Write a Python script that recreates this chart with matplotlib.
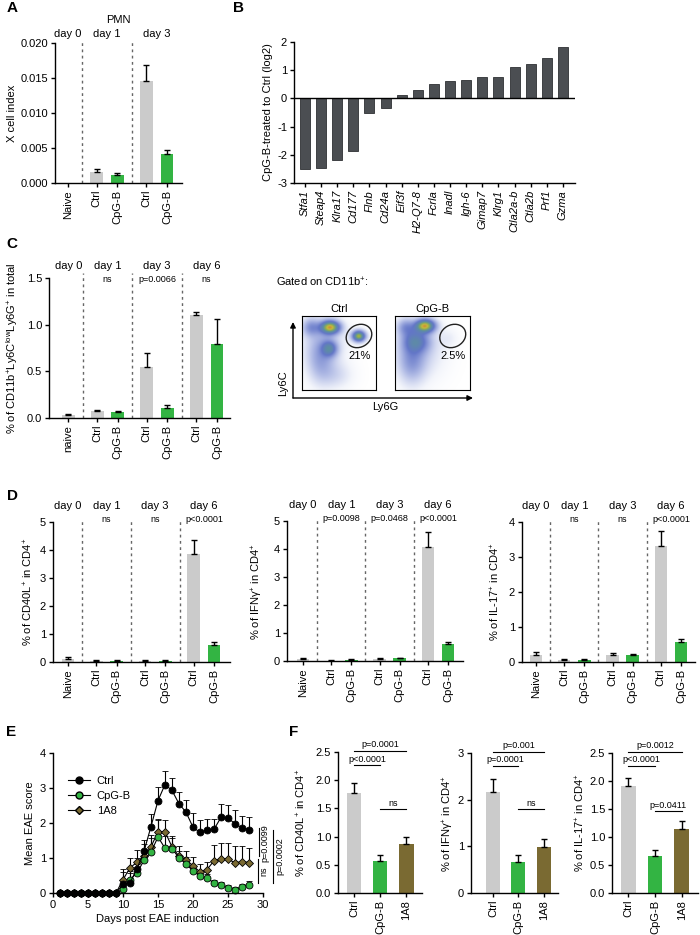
import numpy as np
import matplotlib
matplotlib.use("Agg")
import matplotlib.pyplot as plt
import matplotlib.transforms as mtransforms
from matplotlib.patches import Ellipse
from matplotlib.lines import Line2D
from matplotlib.colors import LinearSegmentedColormap

plt.rcParams["font.family"] = ["Liberation Sans", "DejaVu Sans"]
plt.rcParams["mathtext.default"] = "regular"
plt.rcParams["font.size"] = 8
plt.rcParams["axes.linewidth"] = 1.0

GREY = "#cbcbcb"
GREEN = "#33b443"
OLIVE = "#7a6a32"
DARK = "#4b4e52"

# =========================
# Data
# =========================
# A: PMN X cell index
a_labels = ["Naive", "Ctrl", "CpG-B", "Ctrl", "CpG-B"]
a_vals = [0.0, 0.0016, 0.0012, 0.0145, 0.0041]
a_err = [0.0, 0.0004, 0.0003, 0.0023, 0.0006]
a_days = ["day 0", "day 1", "day 3"]

# B: log2 fold change
b_genes = ["Stfa1", "Steap4", "Klra17", "Cd177", "Flnb", "Cd24a", "Eif3f", "H2-Q7-8",
           "Fcrla", "Inadl", "Igh-6", "Gimap7", "Klrg1", "Ctla2a-b", "Ctla2b", "Prf1", "Gzma"]
b_vals = [-2.50, -2.47, -2.17, -1.87, -0.53, -0.33, 0.13, 0.30,
          0.52, 0.62, 0.67, 0.76, 0.77, 1.12, 1.22, 1.45, 1.83]

# shared time-course labels (C, D)
tc_labels = ["naive", "Ctrl", "CpG-B", "Ctrl", "CpG-B", "Ctrl", "CpG-B"]
tc_labels_d = ["Naive", "Ctrl", "CpG-B", "Ctrl", "CpG-B", "Ctrl", "CpG-B"]
tc_days = ["day 0", "day 1", "day 3", "day 6"]

# C
c_vals = [0.03, 0.07, 0.06, 0.55, 0.11, 1.10, 0.79]
c_err = [0.01, 0.015, 0.01, 0.15, 0.03, 0.04, 0.27]
c_p = ["ns", "p=0.0066", "ns"]

# C flow plots: gaussian components (x, y, sx, sy, weight) in gate coords
ctrl_cx = [0.38, 0.37, 0.77, 0.12, 0.25, 0.45, 0.30]
ctrl_cy = [0.85, 0.56, 0.73, 0.85, 0.40, 0.20, 0.65]
ctrl_sx = [0.09, 0.07, 0.06, 0.08, 0.12, 0.15, 0.18]
ctrl_sy = [0.06, 0.07, 0.05, 0.08, 0.20, 0.12, 0.22]
ctrl_w = [1.0, 0.5, 0.95, 0.3, 0.22, 0.1, 0.15]

cpg_cx = [0.40, 0.28, 0.14, 0.22, 0.72, 0.35]
cpg_cy = [0.87, 0.66, 0.85, 0.40, 0.70, 0.55]
cpg_sx = [0.09, 0.12, 0.08, 0.12, 0.08, 0.20]
cpg_sy = [0.06, 0.10, 0.08, 0.20, 0.08, 0.25]
cpg_w = [1.0, 0.45, 0.3, 0.28, 0.04, 0.12]

# D
d_cd40l = [0.10, 0.05, 0.04, 0.04, 0.05, 3.85, 0.62]
d_cd40l_err = [0.08, 0.02, 0.02, 0.02, 0.02, 0.52, 0.10]
d_cd40l_p = ["ns", "ns", "p<0.0001"]
d_ifng = [0.07, 0.01, 0.05, 0.07, 0.10, 4.07, 0.60]
d_ifng_err = [0.05, 0.01, 0.02, 0.02, 0.02, 0.55, 0.08]
d_ifng_p = ["p=0.0098", "p=0.0468", "p<0.0001"]
d_il17 = [0.20, 0.07, 0.06, 0.21, 0.19, 3.32, 0.57]
d_il17_err = [0.08, 0.02, 0.02, 0.05, 0.03, 0.42, 0.08]
d_il17_p = ["ns", "ns", "p<0.0001"]

# E: EAE score
e_days = list(range(1, 29))
e_ctrl = [0, 0, 0, 0, 0, 0, 0, 0, 0, 0.25, 0.29, 0.70, 1.19, 1.90, 2.64, 3.10, 2.93,
          2.55, 2.31, 1.88, 1.73, 1.80, 1.82, 2.16, 2.14, 1.98, 1.86, 1.81]
e_ctrl_err = [0, 0, 0, 0, 0, 0, 0, 0, 0, 0.35, 0.35, 0.30, 0.32, 0.37, 0.38, 0.40, 0.35,
              0.33, 0.36, 0.40, 0.37, 0.32, 0.30, 0.38, 0.38, 0.40, 0.35, 0.36]
e_cpg = [0, 0, 0, 0, 0, 0, 0, 0, 0, 0.12, 0.38, 0.58, 0.93, 1.17, 1.60, 1.28, 1.27,
         1.00, 0.83, 0.63, 0.48, 0.43, 0.28, 0.22, 0.15, 0.10, 0.18, 0.24]
e_cpg_err = [0, 0, 0, 0, 0, 0, 0, 0, 0, 0.15, 0.2, 0.25, 0.3, 0.4, 0.5, 0.35, 0.3,
             0.2, 0.2, 0.15, 0.12, 0.12, 0.1, 0.1, 0.08, 0.07, 0.08, 0.1]
e_1a8 = [0, 0, 0, 0, 0, 0, 0, 0, 0, 0.38, 0.72, 0.88, 1.05, 1.32, 1.75, 1.75, 1.32,
         1.05, 0.95, 0.78, 0.60, 0.67, 0.92, 0.98, 0.97, 0.86, 0.90, 0.87]
e_1a8_err = [0, 0, 0, 0, 0, 0, 0, 0, 0, 0.32, 0.28, 0.34, 0.35, 0.35, 0.37, 0.35, 0.30,
             0.28, 0.25, 0.25, 0.22, 0.22, 0.45, 0.45, 0.45, 0.47, 0.43, 0.43]

# F
f_groups = ["Ctrl", "CpG-B", "1A8"]
f_cd40l = [1.77, 0.57, 0.87]
f_cd40l_err = [0.18, 0.11, 0.13]
f_cd40l_p = ["p<0.0001", "p=0.0001", "ns"]
f_ifng = [2.17, 0.67, 0.99]
f_ifng_err = [0.27, 0.15, 0.17]
f_ifng_p = ["p=0.0001", "p=0.001", "ns"]
f_il17 = [1.91, 0.66, 1.14]
f_il17_err = [0.14, 0.10, 0.15]
f_il17_p = ["p<0.0001", "p=0.0012", "p=0.0411"]

# layout helpers (pixel boxes on a 700x935 canvas)
W, H = 700, 935
POS = [0, 1.4, 2.4, 3.8, 4.8, 6.2, 7.2]
DASH = [0.7, 3.1, 5.5]
CENTERS = [0, 1.9, 4.3, 6.7]

fig = plt.figure(figsize=(7, 9.35), dpi=100)


def add_ax(box):
    x0, y0, x1, y1 = box
    ax = fig.add_axes([x0 / W, 1 - y1 / H, (x1 - x0) / W, (y1 - y0) / H])
    ax.spines[["top", "right"]].set_visible(False)
    ax.tick_params(direction="out", length=3, width=1, labelsize=8, pad=2)
    return ax


def ylabel_at(ax, box, text, px):
    ax.set_ylabel(text, fontsize=8)
    ax.yaxis.set_label_coords((px - box[0]) / (box[2] - box[0]), 0.5)


def draw_bars(ax, pos, vals, errs, colors, width):
    ax.bar(pos, vals, width=width, color=colors, zorder=2)
    for p, v, e in zip(pos, vals, errs):
        if e > 0:
            ax.errorbar(p, v, yerr=[[0], [e]], fmt="none", ecolor="black",
                        elinewidth=1, capsize=2.5, capthick=1, zorder=3)


def time_panel(box, labels, vals, errs, ylim, yticks, fmt, ylabel, label_px,
               days, pvals, xlim, day_y, p_y, dash_top):
    ax = add_ax(box)
    pos = POS[:len(vals)]
    colors = [GREEN if l == "CpG-B" else GREY for l in labels]
    draw_bars(ax, pos, vals, errs, colors, 0.62)
    ax.set_xlim(*xlim)
    ax.set_ylim(*ylim)
    ax.set_yticks(yticks)
    ax.set_yticklabels([fmt.format(t) for t in yticks])
    ax.set_xticks(pos)
    ax.set_xticklabels(labels, rotation=90)
    trans = mtransforms.blended_transform_factory(ax.transData, ax.transAxes)
    for d in DASH[:len(days) - 1]:
        ax.plot([d, d], [0, dash_top], transform=trans, ls=(0, (2, 2.5)),
                color="#666666", lw=1, clip_on=False)
    for c, t in zip(CENTERS, days):
        ax.text(c, day_y, t, transform=trans, ha="center", va="center", fontsize=8)
    if pvals:
        for c, t in zip(CENTERS[1:], pvals):
            ax.text(c, p_y, t, transform=trans, ha="center", va="center", fontsize=6.5)
    ylabel_at(ax, box, ylabel, label_px)
    return ax


# ---- A ----
box = (55, 43, 182, 183)
axA = time_panel(box, a_labels, a_vals, a_err, (0, 0.02),
                 [0, 0.005, 0.010, 0.015, 0.020], "{:.3f}", "X cell index", 17,
                 a_days, None, (-0.63, 5.53), 1.064, 0, 1.01)
axA.text(2.44, 1.164, "PMN", transform=mtransforms.blended_transform_factory(
    axA.transData, axA.transAxes), ha="center", va="center", fontsize=8)

# ---- B ----
box = (294, 42, 575, 183)
axB = add_ax(box)
axB.bar(range(len(b_vals)), b_vals, width=0.62, color=DARK, edgecolor="#2e3033",
        linewidth=0.6, zorder=2)
axB.axhline(0, color="black", lw=1, zorder=3)
axB.set_xlim(-0.68, 16.75)
axB.set_ylim(-3, 2)
axB.set_yticks([-3, -2, -1, 0, 1, 2])
axB.set_yticklabels(["-3", "-2", "-1", "0", "1", "2"])
axB.set_xticks(range(len(b_vals)))
axB.set_xticklabels(b_genes, rotation=90, style="italic")
ylabel_at(axB, box, "CpG-B-treated to Ctrl (log2)", 273)

# ---- C ----
box = (49, 278, 230, 418)
time_panel(box, tc_labels, c_vals, c_err, (0, 1.5), [0, 0.5, 1.0, 1.5], "{:.1f}",
           "% of CD11b$^{+}$Ly6C$^{low}$Ly6G$^{+}$ in total", 20,
           tc_days, c_p, (-0.93, 7.83), 1.086, 0.986, 1.036)

# ---- C flow plots ----
gx, gy = np.meshgrid(np.linspace(0, 1, 150), np.linspace(0, 1, 150))


def density(cx, cy, sx, sy, w):
    z = np.zeros_like(gx)
    for a, b, c, d, e in zip(cx, cy, sx, sy, w):
        z += e * np.exp(-0.5 * (((gx - a) / c) ** 2 + ((gy - b) / d) ** 2))
    return (z / z.max()) ** 0.8


flow_cmap = LinearSegmentedColormap.from_list(
    "flow", [(0, "white"), (0.06, "#f3f5fb"), (0.25, "#b3bde6"), (0.5, "#6376c8"),
             (0.72, "#5d8fa0"), (0.86, "#8fae50"), (0.95, "#cbb83a"), (1.0, "#c9923a")])

flow_sets = [
    ((302, 316, 376, 390), "Ctrl", "21%", (ctrl_cx, ctrl_cy, ctrl_sx, ctrl_sy, ctrl_w)),
    ((395, 316, 470, 390), "CpG-B", "2.5%", (cpg_cx, cpg_cy, cpg_sx, cpg_sy, cpg_w)),
]
for fbox, title, pct, comps in flow_sets:
    fa = add_ax(fbox)
    fa.spines[["top", "right"]].set_visible(True)
    for s in fa.spines.values():
        s.set_linewidth(0.8)
    fa.imshow(density(*comps), cmap=flow_cmap, origin="lower", extent=[0, 1, 0, 1],
              interpolation="bilinear", aspect="auto", vmin=0, vmax=1)
    fa.add_patch(Ellipse((0.77, 0.73), 0.36, 0.30, angle=30, fill=False,
                         edgecolor="#222222", lw=1))
    fa.text(0.78, 0.46, pct, ha="center", va="center", fontsize=8)
    fa.set_xticks([])
    fa.set_yticks([])
    fa.set_xlim(0, 1)
    fa.set_ylim(0, 1)
    fa.set_title(title, fontsize=8, pad=3)

ov = fig.add_axes([0, 0, 1, 1])
ov.set_xlim(0, W)
ov.set_ylim(H, 0)
ov.axis("off")
ov.annotate("", xy=(293, 322), xytext=(293, 398),
            arrowprops=dict(arrowstyle="-|>", lw=1, color="black", mutation_scale=8,
                            shrinkA=0, shrinkB=0))
ov.annotate("", xy=(473, 398), xytext=(293, 398),
            arrowprops=dict(arrowstyle="-|>", lw=1, color="black", mutation_scale=8,
                            shrinkA=0, shrinkB=0))
ov.text(283, 383, "Ly6C", rotation=90, ha="center", va="center", fontsize=8)
ov.text(385, 407, "Ly6G", ha="center", va="center", fontsize=8)
ov.text(276, 282, "Gated on CD11b$^{+}$:", ha="left", va="center", fontsize=8)

for letter, (px, py) in zip("ABCDEF", [(7, 8), (233, 8), (6, 244), (7, 496),
                                       (6, 732), (289, 732)]):
    ov.text(px, py, letter, ha="left", va="center", fontsize=11, fontweight="bold")

# ---- D ----
d_sets = [
    ((53, 522, 230, 662), d_cd40l, d_cd40l_err, d_cd40l_p, (0, 5), [0, 1, 2, 3, 4, 5],
     "% of CD40L$^{+}$ in CD4$^{+}$", 35, (-0.74, 7.99)),
    ((287, 521, 463, 661), d_ifng, d_ifng_err, d_ifng_p, (0, 5), [0, 1, 2, 3, 4, 5],
     "% of IFN\u03b3$^{+}$ in CD4$^{+}$", 265, (-0.8, 7.95)),
    ((522, 522, 695, 662), d_il17, d_il17_err, d_il17_p, (0, 4), [0, 1, 2, 3, 4],
     "% of IL-17$^{+}$ in CD4$^{+}$", 502, (-0.7, 7.9)),
]
for dbox, vals, errs, pv, yl, yt, lab, lpx, xl in d_sets:
    time_panel(dbox, tc_labels_d, vals, errs, yl, yt, "{:d}", lab, lpx,
               tc_days, pv, xl, 1.114, 1.02, 1.02)

# ---- E ----
box = (53, 753, 263, 893)
axE = add_ax(box)
series = [
    (e_1a8, e_1a8_err, "D", OLIVE, 4.2),
    (e_cpg, e_cpg_err, "o", GREEN, 5),
    (e_ctrl, e_ctrl_err, "o", "black", 5),
]
for vals, errs, mk, col, ms in series:
    axE.errorbar(e_days, vals, yerr=[np.zeros(len(errs)), errs], fmt="-" + mk,
                 color="black", mfc=col, mec="black", mew=0.6, ms=ms, lw=0.8,
                 elinewidth=0.8, capsize=2, capthick=0.8, clip_on=False)
axE.set_xlim(0, 30)
axE.set_ylim(0, 4)
axE.set_xticks([0, 5, 10, 15, 20, 25, 30])
axE.set_yticks([0, 1, 2, 3, 4])
ylabel_at(axE, box, "Mean EAE score", 35)
axE.set_xlabel("Days post EAE induction", fontsize=8)
axE.xaxis.set_label_coords(0.5, (893 - 914) / 140)
handles = [
    Line2D([], [], color="black", lw=0.8, marker="o", mfc="black", mec="black", ms=5),
    Line2D([], [], color="black", lw=0.8, marker="o", mfc=GREEN, mec="black", ms=5),
    Line2D([], [], color="black", lw=0.8, marker="D", mfc=OLIVE, mec="black", ms=4),
]
axE.legend(handles, ["Ctrl", "CpG-B", "1A8"], loc="upper left",
           bbox_to_anchor=(0.05, 0.87), frameon=False, fontsize=8, handlelength=2,
           labelspacing=0.45, borderaxespad=0, handletextpad=0.6)
for x, y0, y1, txt, tx, ty in [(29.3, 0.3, 0.97, "ns", 30.2, 0.62),
                               (29.4, 1.05, 1.86, "p=0.0099", 30.3, 1.43),
                               (31.4, 0.29, 1.81, "p=0.0002", 32.4, 1.05)]:
    axE.plot([x, x], [y0, y1], color="black", lw=0.8, clip_on=False)
    axE.text(tx, ty, txt, rotation=90, ha="center", va="center", fontsize=6.5)

# ---- F ----
f_sets = [
    ((338, 752, 422, 893), f_cd40l, f_cd40l_err, f_cd40l_p, (0, 2.5),
     [0, 0.5, 1.0, 1.5, 2.0, 2.5], "{:.1f}", "% of CD40L$^{+}$ in CD4$^{+}$", 308,
     (-0.62, 2.6), [2.27, 2.52, 1.49]),
    ((471, 753, 558, 893), f_ifng, f_ifng_err, f_ifng_p, (0, 3), [0, 1, 2, 3], "{:.0f}",
     "% of IFN\u03b3$^{+}$ in CD4$^{+}$", 456, (-0.86, 2.55), [2.73, 3.03, 1.79]),
    ((612, 753, 698, 893), f_il17, f_il17_err, f_il17_p, (0, 2.5),
     [0, 0.5, 1.0, 1.5, 2.0, 2.5], "{:.1f}", "% of IL-17$^{+}$ in CD4$^{+}$", 587,
     (-0.6, 2.6), [2.27, 2.52, 1.46]),
]
pairs = [(0, 1), (0, 2), (1, 2)]
for fbox, vals, errs, pv, yl, yt, fmt, lab, lpx, xl, heights in f_sets:
    ax = add_ax(fbox)
    draw_bars(ax, [0, 1, 2], vals, errs, [GREY, GREEN, OLIVE], 0.55)
    ax.set_xlim(*xl)
    ax.set_ylim(*yl)
    ax.set_yticks(yt)
    ax.set_yticklabels([fmt.format(t) for t in yt])
    ax.set_xticks([0, 1, 2])
    ax.set_xticklabels(f_groups, rotation=90)
    ylabel_at(ax, fbox, lab, lpx)
    for (i, j), h, t in zip(pairs, heights, pv):
        ax.plot([i, j], [h, h], color="black", lw=0.8, clip_on=False)
        ax.annotate(t, xy=((i + j) / 2, h), xytext=(0, 1), textcoords="offset points",
                    ha="center", va="bottom", fontsize=6.5, annotation_clip=False)

fig.savefig("out.png", dpi=100)
